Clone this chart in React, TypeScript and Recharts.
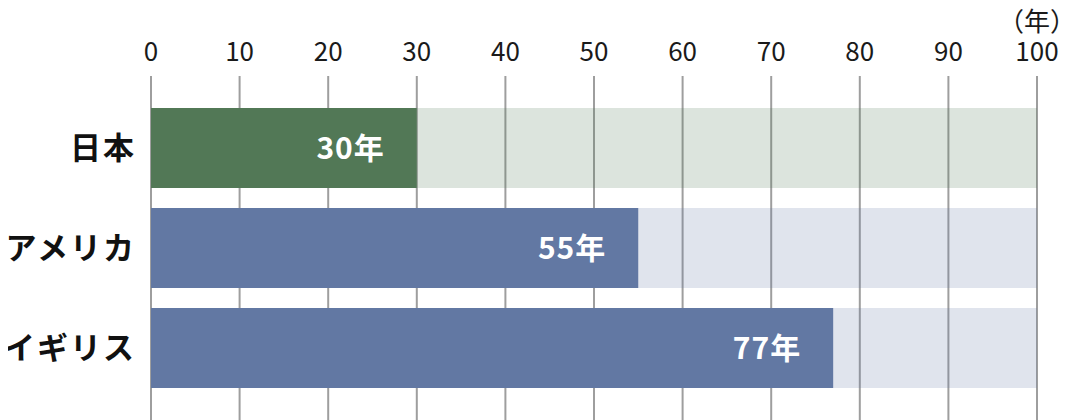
import { BarChart, Bar, XAxis, YAxis, CartesianGrid, Cell, LabelList } from 'recharts';

const countries = ['日本', 'アメリカ', 'イギリス'];
const years = [30, 55, 77];
const xTicks = [0, 10, 20, 30, 40, 50, 60, 70, 80, 90, 100];
const barColors = ['#527856', '#6278a3', '#6278a3'];
const maxYears = 100;

const data = countries.map((name, i) => ({
    name,
    value: years[i],
    rest: maxYears - years[i],
}));

const font = '"Noto Sans CJK JP", "Noto Sans", sans-serif';

export default function App() {
    return (
        <div style={{ position: 'relative', width: 1074, height: 412, marginLeft: -8, fontFamily: font }}>
            <div
                style={{
                    position: 'absolute',
                    left: 998,
                    top: 3,
                    fontSize: 26,
                    color: '#1a1a1a',
                    lineHeight: '18px',
                    whiteSpace: 'nowrap',
                }}
            >
                （年）
            </div>
            <BarChart
                width={1074}
                height={412}
                data={data}
                layout="vertical"
                margin={{ top: 0, right: 37, bottom: 0, left: 0 }}
                barCategoryGap="10%"
            >
                <CartesianGrid vertical horizontal={false} stroke="#9e9e9e" strokeWidth={2} />
                <XAxis
                    type="number"
                    orientation="top"
                    domain={[0, maxYears]}
                    ticks={xTicks}
                    height={68}
                    axisLine={false}
                    tickLine={false}
                    tickSize={0}
                    tickMargin={15}
                    tick={{ fill: '#1a1a1a', fontSize: 26, fontFamily: font }}
                />
                <YAxis
                    type="category"
                    dataKey="name"
                    width={151}
                    axisLine={false}
                    tickLine={false}
                    tickSize={0}
                    tickMargin={15}
                    padding={{ top: 22, bottom: 22 }}
                    tick={{ fill: '#111111', fontSize: 31, fontWeight: 700, fontFamily: font, letterSpacing: 2 }}
                />
                <Bar dataKey="value" stackId="a" isAnimationActive={false}>
                    {data.map((d, i) => (
                        <Cell key={d.name} fill={barColors[i]} />
                    ))}
                    <LabelList
                        dataKey="value"
                        position="insideRight"
                        offset={32}
                        formatter={(v: number) => `${v}年`}
                        fill="#ffffff"
                        style={{ fontSize: 30, fontWeight: 700, fontFamily: font, letterSpacing: 1 }}
                    />
                </Bar>
                <Bar dataKey="rest" stackId="a" isAnimationActive={false}>
                    {data.map((d, i) => (
                        <Cell key={d.name} fill={barColors[i]} fillOpacity={0.2} />
                    ))}
                </Bar>
            </BarChart>
        </div>
    );
}
